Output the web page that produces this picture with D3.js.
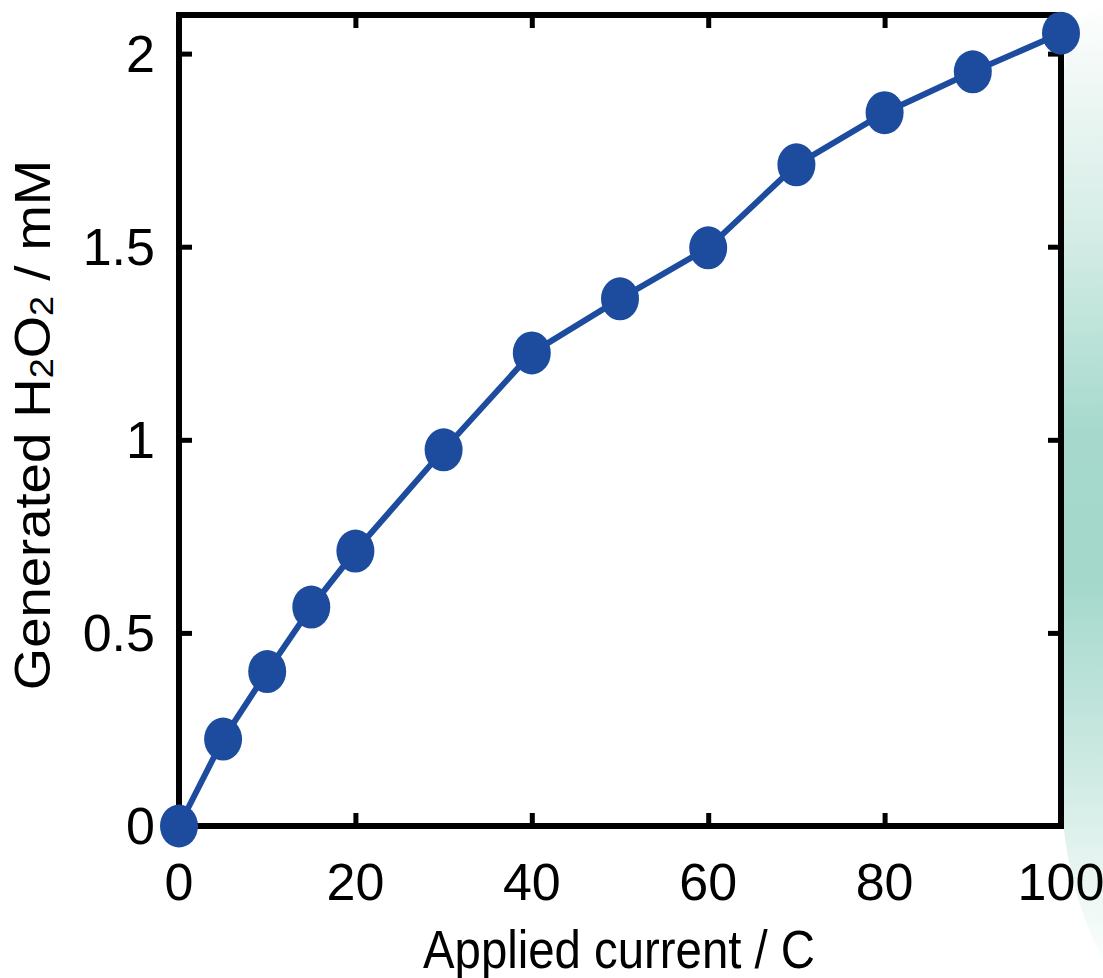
<!DOCTYPE html>
<html><head><meta charset="utf-8">
<script src="https://cdn.jsdelivr.net/npm/d3@7"></script>
<style>body{margin:0;background:#fff}svg{display:block}text{font-family:"Liberation Sans",Arial,sans-serif;fill:#000}</style>
</head><body>
<script>
const currents = [0, 5, 10, 15, 20, 30, 40, 50, 60, 70, 80, 90, 100];
const h2o2 = [0, 0.225, 0.40, 0.567, 0.712, 0.974, 1.225, 1.365, 1.497, 1.712, 1.847, 1.953, 2.053];
const xTicks = [0, 20, 40, 60, 80, 100];
const yTicks = [0, 0.5, 1, 1.5, 2];
const yTickLabels = ["0", "0.5", "1", "1.5", "2"];
const xTitle = "Applied current / C";

const W = 1103, H = 978;
const svg = d3.select("body").append("svg").attr("width", W).attr("height", H);

// decorative gradient at right edge
const defs = svg.append("defs");
const g = defs.append("linearGradient").attr("id","bg").attr("x1",0).attr("y1",0).attr("x2",0).attr("y2",1);
[[0,"#ffffff"],[0.08,"#f1f8f6"],[0.25,"#d3ece5"],[0.45,"#a6d9cc"],[0.6,"#a3d8cb"],[0.78,"#c9e8e0"],[0.9,"#e6f4f0"],[1,"#fbfefd"]]
  .forEach(([o,c]) => g.append("stop").attr("offset",o).attr("stop-color",c));
svg.append("path")
  .attr("d","M1110,0 L1100,0 Q1070,20 1064,70 L1064,830 Q1072,900 1103,960 L1110,960 Z")
  .attr("fill","url(#bg)");

const x = d3.scaleLinear().domain([0,100]).range([179,1061]);
const y = d3.scaleLinear().domain([0,2.1]).range([826,15]);

const frame = svg.append("g");
const tickLen = 13;
function styleAxis(a){
  a.select(".domain").remove();
  a.selectAll("line").attr("stroke","#000").attr("stroke-width",5);
}
frame.append("g").attr("transform",`translate(0,${y(0)})`)
  .call(d3.axisBottom(x).tickValues(xTicks).tickSizeInner(-tickLen).tickSizeOuter(0).tickFormat(""))
  .call(styleAxis);
frame.append("g").attr("transform",`translate(0,${y(2.1)})`)
  .call(d3.axisTop(x).tickValues(xTicks).tickSizeInner(-tickLen).tickSizeOuter(0).tickFormat(""))
  .call(styleAxis);
frame.append("g").attr("transform",`translate(${x(0)},0)`)
  .call(d3.axisLeft(y).tickValues(yTicks).tickSizeInner(-tickLen).tickSizeOuter(0).tickFormat(""))
  .call(styleAxis);
frame.append("g").attr("transform",`translate(${x(100)},0)`)
  .call(d3.axisRight(y).tickValues(yTicks).tickSizeInner(-tickLen).tickSizeOuter(0).tickFormat(""))
  .call(styleAxis);
frame.append("rect")
  .attr("x",x(0)).attr("y",y(2.1)).attr("width",x(100)-x(0)).attr("height",y(0)-y(2.1))
  .attr("fill","none").attr("stroke","#000").attr("stroke-width",6);

// tick labels
svg.append("g").selectAll("text").data(xTicks).join("text")
  .attr("x", d => x(d)).attr("y", 900).attr("text-anchor","middle")
  .attr("font-size",52).text(d => d);
svg.append("g").selectAll("text").data(yTicks).join("text")
  .attr("x", 155).attr("y", d => y(d)).attr("dy","0.35em").attr("text-anchor","end")
  .attr("font-size",52).text((d,i) => yTickLabels[i]);

// titles
svg.append("text").attr("x",619).attr("y",968).attr("text-anchor","middle")
  .attr("font-size",54).attr("textLength",392).attr("lengthAdjust","spacingAndGlyphs").text(xTitle);
const yt = svg.append("text").attr("transform","translate(50,425) rotate(-90) scale(1.09,1)")
  .attr("text-anchor","middle").attr("font-size",50);
yt.append("tspan").text("Generated H");
yt.append("tspan").attr("font-size",33).attr("dy",3).text("2");
yt.append("tspan").attr("dy",-3).text("O");
yt.append("tspan").attr("font-size",33).attr("dy",3).text("2");
yt.append("tspan").attr("dy",-3).text(" / mM");

// data
const pts = currents.map((c,i) => [c, h2o2[i]]);
const blue = "#1d4c9f";
svg.append("path").datum(pts)
  .attr("d", d3.line().x(d => x(d[0])).y(d => y(d[1])))
  .attr("fill","none").attr("stroke",blue).attr("stroke-width",6);
svg.append("g").selectAll("ellipse").data(pts).join("ellipse")
  .attr("cx", d => x(d[0])).attr("cy", d => y(d[1]))
  .attr("rx",19).attr("ry",21.5).attr("fill",blue);
</script>
</body></html>
